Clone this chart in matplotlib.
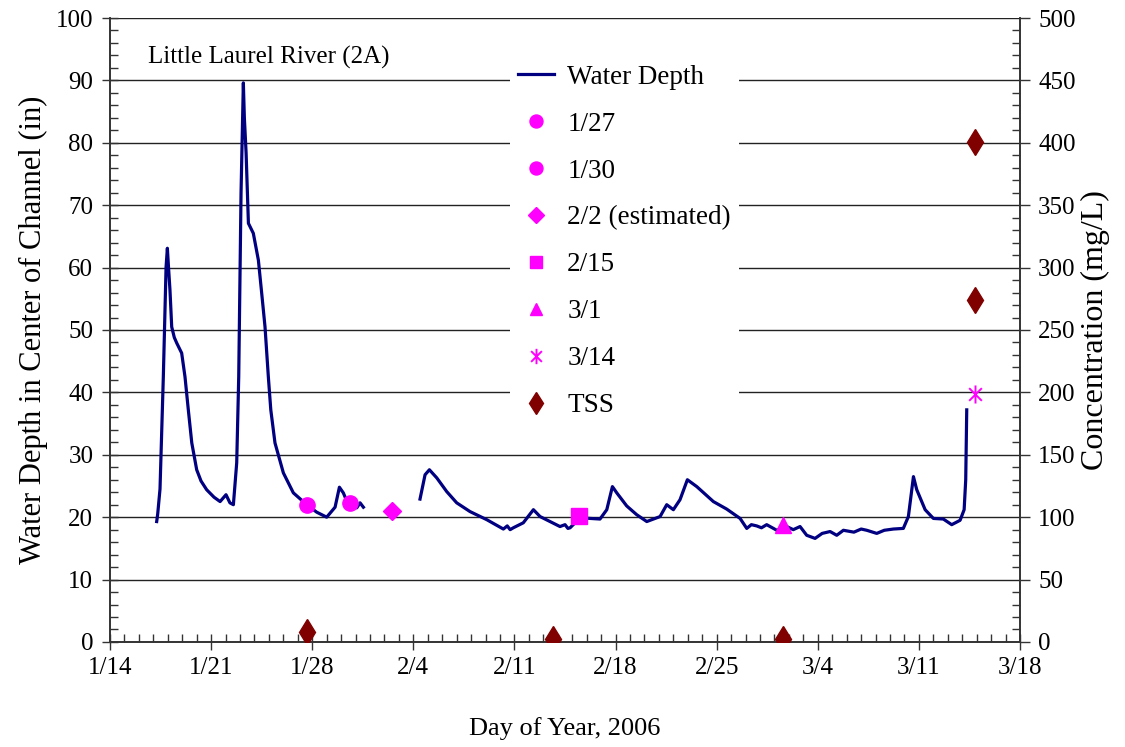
import numpy as np
import pandas as pd
import matplotlib
matplotlib.use("Agg")
import matplotlib.pyplot as plt
import matplotlib.dates as mdates
from matplotlib.path import Path
from matplotlib.ticker import MultipleLocator, FuncFormatter

plt.rcParams["font.family"] = ["Liberation Serif", "DejaVu Serif"]

# water depth trace, decimal day of year 2006 (NaN marks the logger gap)
depth_doy = [17.23, 17.30, 17.46, 17.69, 17.88, 17.97, 18.05, 18.15, 18.27, 18.45,
             18.62, 18.96, 19.19, 19.42, 19.66, 20.00, 20.30, 20.69, 21.20, 21.62,
             22.03, 22.30, 22.54, 22.77, 22.91, 23.07, 23.23, 23.30, 23.42, 23.58,
             23.92, 24.27, 24.50, 24.73, 24.96, 25.13, 25.42, 26.00, 26.69, 27.62,
             28.31, 29.00, 29.58, 29.88, 30.15, 30.50, 31.08, 31.31, 31.54, 33.5,
             35.46, 35.81, 36.11, 36.62, 37.31, 38.00, 38.92, 40.08, 41.23, 41.50,
             41.70, 41.92, 42.61, 43.31, 43.77, 44.46, 45.15, 45.50, 45.70, 45.85,
             46.54, 47.92, 48.39, 48.78, 49.08, 49.77, 50.46, 51.16, 52.08, 52.54,
             53.00, 53.46, 53.97, 54.62, 55.77, 56.69, 57.62, 58.08, 58.40, 58.77,
             59.10, 59.46, 60.16, 60.85, 61.30, 61.77, 62.23, 62.81, 63.30, 63.85,
             64.31, 64.77, 65.50, 66.00, 66.39, 67.08, 67.60, 68.23, 68.92, 69.27,
             69.62, 69.85, 70.43, 71.00, 71.69, 72.27, 72.85, 73.13, 73.24, 73.31]
depth_in = [19.3, 20.5, 24.5, 42.5, 60.1, 63.1, 60.0, 56.4, 50.5, 48.8,
            47.9, 46.3, 42.5, 37.2, 31.9, 27.6, 25.8, 24.4, 23.2, 22.5,
            23.6, 22.3, 22.0, 28.7, 42.5, 72.0, 89.6, 84.0, 78.4, 67.1,
            65.5, 61.2, 55.9, 50.5, 42.5, 37.2, 31.9, 27.1, 23.9, 22.0,
            20.8, 20.0, 21.6, 24.8, 23.9, 22.0, 21.5, 22.3, 21.6, np.nan,
            22.9, 26.8, 27.6, 26.3, 24.1, 22.3, 20.9, 19.6, 18.1, 18.6,
            18.0, 18.3, 19.1, 21.2, 20.1, 19.3, 18.5, 18.8, 18.2, 18.3,
            19.9, 19.7, 21.2, 24.9, 23.9, 21.8, 20.4, 19.3, 20.1, 22.0,
            21.2, 22.8, 26.0, 24.9, 22.5, 21.3, 19.8, 18.2, 18.8, 18.6,
            18.3, 18.8, 17.9, 18.5, 18.0, 18.5, 17.1, 16.6, 17.4, 17.7,
            17.1, 17.9, 17.6, 18.1, 17.9, 17.4, 17.9, 18.1, 18.2, 20.1,
            26.5, 24.4, 21.2, 19.8, 19.7, 18.8, 19.5, 21.2, 26.0, 37.2]

# sampling events plotted on depth axis
sample_labels = ["1/27", "1/30", "2/2 (estimated)", "2/15", "3/1", "3/14"]
sample_doy = [27.64, 30.6, 33.5, 46.5, 60.6, 73.9]
sample_depth = [22.0, 22.2, 21.0, 20.2, 18.8, 39.7]
sample_markers = ["o", "o", "D", "s", "^", "star"]

# TSS concentrations (mg/L)
tss_doy = [27.64, 44.67, 60.6, 73.9, 73.9]
tss_mgl = [8, 2, 2, 401, 274]

base = pd.Timestamp("2006-01-01")


def to_dates(doy):
    return base + pd.to_timedelta(np.asarray(doy) - 1, unit="D")


# Excel-style star: an x with a vertical bar through it
star = Path([(-0.7, -0.7), (0.7, 0.7), (-0.7, 0.7), (0.7, -0.7), (0, -1), (0, 1)],
            [Path.MOVETO, Path.LINETO, Path.MOVETO, Path.LINETO, Path.MOVETO, Path.LINETO])

fig = plt.figure(figsize=(11.25, 7.47), dpi=100)
ax = fig.add_axes([0.0978, 0.1406, 0.8089, 0.8353])
ax2 = ax.twinx()

ax.set_axisbelow(True)
ax.yaxis.grid(True, color="#222222", linewidth=1.0)
ax.plot(to_dates(depth_doy), depth_in, color="#000080", linewidth=2.3,
        label="Water Depth", zorder=3)

handles = [ax.lines[0]]
for lab, d, v, m in zip(sample_labels, sample_doy, sample_depth, sample_markers):
    if m == "star":
        h = ax.plot(to_dates([d]), [v], linestyle="none", marker=star, color="#FF00FF",
                    markersize=13, markeredgewidth=1.4, label=lab, zorder=4)[0]
    else:
        h = ax.plot(to_dates([d]), [v], linestyle="none", marker=m, color="#FF00FF",
                    markersize=11 if m != "D" else 9, label=lab, zorder=4)[0]
    handles.append(h)

h = ax2.plot(to_dates(tss_doy), tss_mgl, linestyle="none", marker="d",
             color="#800000", markersize=13, label="TSS", zorder=4)[0]
handles.append(h)

start = pd.Timestamp("2006-01-14")
end = pd.Timestamp("2006-03-18")
ax.set_xlim(start, end)
ax.set_ylim(0, 100)
ax2.set_ylim(0, 500)

ax.set_xticks(pd.date_range(start, end, freq="7D"))
ax.xaxis.set_minor_locator(mdates.DayLocator())
ax.xaxis.set_major_formatter(FuncFormatter(
    lambda x, pos: "{}/{}".format(mdates.num2date(x).month, mdates.num2date(x).day)))
ax.yaxis.set_major_locator(MultipleLocator(10))
ax.yaxis.set_minor_locator(MultipleLocator(2))
ax2.yaxis.set_major_locator(MultipleLocator(50))
ax2.yaxis.set_minor_locator(MultipleLocator(10))

for a in (ax, ax2):
    a.spines["top"].set_visible(False)
    for s in a.spines.values():
        s.set_color("#333333")
        s.set_linewidth(1.2)
ax.tick_params(axis="both", which="major", direction="inout", length=12, width=1,
               labelsize=18, pad=6, color="#333333")
ax.tick_params(axis="both", which="minor", direction="in", length=6, width=1,
               color="#333333")
ax.tick_params(axis="x", which="major", pad=5)
ax2.tick_params(axis="y", which="major", direction="out", length=7, width=1,
                labelsize=18, pad=6, color="#333333")
ax2.tick_params(axis="y", which="minor", direction="in", length=6, width=1,
                color="#333333")

ax.set_xlabel("Day of Year, 2006", fontsize=19, labelpad=27)
ax.set_ylabel("Water Depth in Center of Channel (in)", fontsize=22, labelpad=6)
ax2.set_ylabel("Concentration (mg/L)", fontsize=23, labelpad=4)

ax.text(0.042, 0.955, "Little Laurel River (2A)", transform=ax.transAxes,
        fontsize=18, va="top", ha="left",
        bbox=dict(facecolor="white", edgecolor="none", pad=3))

leg = ax2.legend(handles=handles, loc="upper left", bbox_to_anchor=(0.425, 0.96),
                 frameon=True, fontsize=19.5, labelspacing=0.81, handlelength=1.3,
                 handletextpad=0.5, borderpad=0.3, fancybox=False, markerscale=0.85)
leg.get_frame().set_edgecolor("none")
leg.get_frame().set_facecolor("white")
leg.get_frame().set_alpha(1.0)

fig.savefig("out.png", dpi=100)
